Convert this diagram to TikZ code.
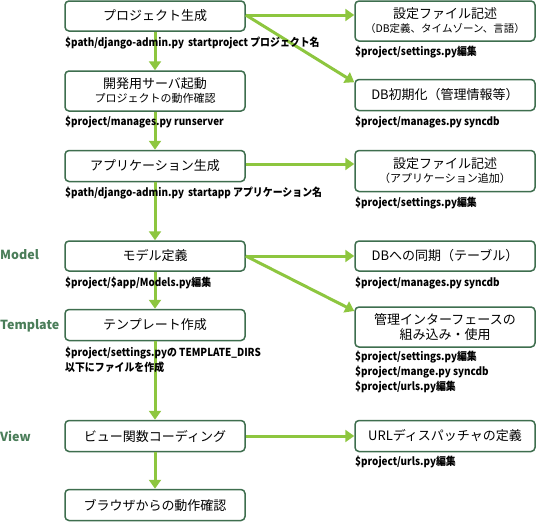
\documentclass[tikz,border=0pt]{standalone}
\usepackage{fontspec}
\setmainfont{Noto Sans CJK JP}
\newfontfamily\cmdfont{Noto Sans CJK JP}[FakeStretch=0.9]
\usetikzlibrary{%
  arrows.meta,%
  calc%
}
\definecolor{boxgreen}{HTML}{3E6E4E}
\definecolor{sidegreen}{HTML}{4A7D59}
\definecolor{flowgreen}{HTML}{8DC63F}
\tikzset{>={Triangle[length=9pt,width=12pt]}}
\tikzset{
  box/.style={draw=boxgreen,line width=1.5pt,rounded corners=4pt,fill=white,
    minimum width=180pt,inner sep=0pt,align=center,font=\fontsize{13}{16}\selectfont},
  cmd/.style={anchor=west,inner sep=0pt,align=left,
    font=\cmdfont\bfseries\fontsize{11}{15}\selectfont},
  side/.style={anchor=west,inner sep=0pt,text=sidegreen,
    font=\bfseries\fontsize{12.5}{15}\selectfont},
  flow/.style={->,draw=flowgreen,line width=3pt}
}

\begin{document}
\begin{tikzpicture}[x=1pt,y=-1pt]
    \useasboundingbox (0,0) rectangle (536,522);
    % left column
    \node[box,minimum height=30pt] (proj) at (155,16) {プロジェクト生成};
    \node[box,minimum height=40pt] (serv) at (155,91)
    {開発用サーバ起動\\[-2pt]{\fontsize{11}{13}\selectfont プロジェクトの動作確認}};
    \node[box,minimum height=31pt] (app) at (155,166) {アプリケーション生成};
    \node[box,minimum height=30pt] (model) at (155,256) {モデル定義};
    \node[box,minimum height=31pt] (tmpl) at (155,325) {テンプレート作成};
    \node[box,minimum height=31pt] (view) at (155,436) {ビュー関数コーディング};
    \node[box,minimum height=31pt] (brow) at (155,505) {ブラウザからの動作確認};
    % right column
    \node[box,minimum height=40pt] (conf) at (445,21)
    {設定ファイル記述\\[-2pt]{\fontsize{10.5}{13}\selectfont （DB定義、タイムゾーン、言語）}};
    \node[box,minimum height=31pt] (dbinit) at (445,95) {DB初期化（管理情報等）};
    \node[box,minimum height=41pt] (appconf) at (445,171)
    {設定ファイル記述\\[-2pt]{\fontsize{11}{13}\selectfont （アプリケーション追加）}};
    \node[box,minimum height=30pt] (sync) at (445,256) {DBへの同期（テーブル）};
    \node[box,minimum height=40pt] (admin) at (445,327)
    {管理インターフェースの\\[-1pt]組み込み・使用};
    \node[box,minimum height=31pt] (urls) at (445,436) {URLディスパッチャの定義};
    % connectors
    \draw[flow] (proj) -- (serv);
    \draw[flow] (serv) -- (app);
    \draw[flow] (app) -- (model);
    \draw[flow] (model) -- (tmpl);
    \draw[flow] (tmpl) -- (view);
    \draw[flow] (view) -- (brow);
    \draw[flow] ($(proj.east)+(0,-1)$) -- ($(proj.east -| conf.west)+(0,-1)$);
    \draw[flow] ($(proj.east)+(0,-1)$) -- (dbinit.172);
    \draw[flow] ($(app.east)+(0,-2)$) -- ($(app.east -| appconf.west)+(0,-2)$);
    \draw[flow] (model.east) -- (model.east -| sync.west);
    \draw[flow] (model.east) -- (admin.170);
    \draw[flow] (view.east) -- (urls.west);
    % commands
    \node[cmd] (c1) at (65,43) {\$path/django-admin.py\, startproject プロジェクト名};
    \node[cmd] (c2) at (65,122) {\$project/manages.py runserver};
    \node[cmd] (c3) at (65,193) {\$path/django-admin.py\, startapp アプリケーション名};
    \node[cmd] (c4) at (65,283) {\$project/\$app/Models.py編集};
    \node[cmd] (c5) at (65,360) {\$project/settings.pyの TEMPLATE\_DIRS\\以下にファイルを作成};
    \node[cmd] (c6) at (355,52) {\$project/settings.py編集};
    \node[cmd] (c7) at (355,122) {\$project/manages.py syncdb};
    \node[cmd] (c8) at (355,203) {\$project/settings.py編集};
    \node[cmd] (c9) at (355,283) {\$project/manages.py syncdb};
    \node[cmd] (c10) at (355,372)
    {\$project/settings.py編集\\\$project/mange.py syncdb\\\$project/urls.py編集};
    \node[cmd] (c11) at (355,462) {\$project/urls.py編集};
    % layers
    \node[side] (lmodel) at (0,255) {Model};
    \node[side] (ltmpl) at (0,326) {Template};
    \node[side] (lview) at (0,436) {View};
\end{tikzpicture}
\end{document}
